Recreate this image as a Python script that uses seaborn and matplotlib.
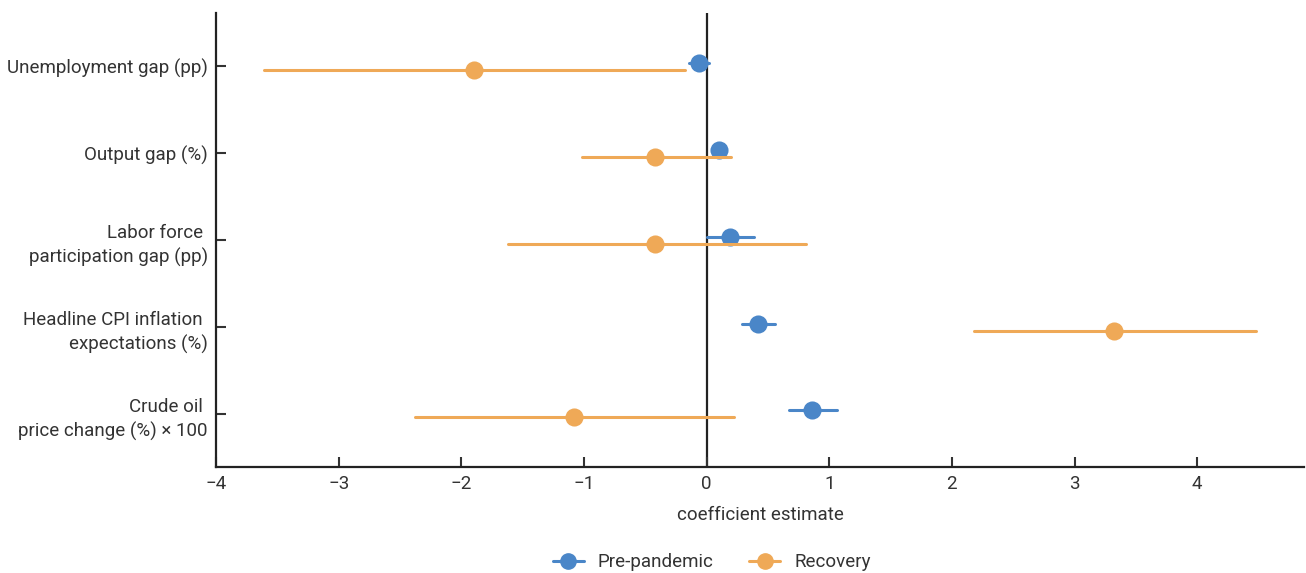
import pandas as pd
import matplotlib.pyplot as plt
import seaborn as sns
from matplotlib.lines import Line2D

# ---------------- DATA ----------------
variables = [
    "Unemployment gap (pp)",
    "Output gap (%)",
    "Labor force \nparticipation gap (pp)",
    "Headline CPI inflation \nexpectations (%)",
    "Crude oil \nprice change (%) × 100",
]
periods = ["Pre-pandemic", "Recovery"]

pre_est = [-0.06, 0.10, 0.19, 0.42, 0.86]
pre_low = [-0.14, 0.09, 0.00, 0.29, 0.67]
pre_high = [0.02, 0.11, 0.39, 0.56, 1.06]

rec_est = [-1.90, -0.42, -0.42, 3.32, -1.08]
rec_low = [-3.61, -1.02, -1.62, 2.18, -2.38]
rec_high = [-0.18, 0.20, 0.81, 4.48, 0.22]

colors = {"Pre-pandemic": "#4a86c8", "Recovery": "#efa957"}

# ---------------- LONG FORM ----------------
# median of (low, est, high) = estimate, full range = interval
rows = []
for period, est, low, high in [("Pre-pandemic", pre_est, pre_low, pre_high),
                               ("Recovery", rec_est, rec_low, rec_high)]:
    for var, e, lo, hi in zip(variables, est, low, high):
        for v in (lo, e, hi):
            rows.append({"variable": var, "period": period, "value": v})
df = pd.DataFrame(rows)

# ---------------- PLOT ----------------
sns.set_style("ticks")
plt.rcParams["font.family"] = ["Roboto", "DejaVu Sans"]
txt = "#333333"

fig = plt.figure(figsize=(13.06, 5.73), dpi=100)
ax = fig.add_axes([0.1654, 0.185, 0.833, 0.792])

ax.axvline(0, color="#222222", lw=1.6, zorder=0)

sns.pointplot(data=df, x="value", y="variable", hue="period",
              order=variables, hue_order=periods, palette=colors,
              estimator="median", errorbar=("pi", 100),
              dodge=0.08, linestyle="none", markers="o",
              markersize=11, err_kws={"linewidth": 2.2},
              orient="h", legend=False, ax=ax)

ax.set_xlim(-4, 4.87)
ax.set_ylim(4.61, -0.61)
ax.set_xticks([-4, -3, -2, -1, 0, 1, 2, 3, 4])
ax.set_ylabel("")
ax.set_xlabel("coefficient estimate", fontsize=13.5, color=txt, labelpad=9)

for lab in ax.get_yticklabels():
    lab.set_multialignment("right")
    lab.set_linespacing(1.4)

ax.tick_params(axis="both", labelsize=13.5, colors=txt, length=7, width=1.5,
               direction="in")
ax.tick_params(axis="y", pad=6)
ax.tick_params(axis="x", pad=6)
for side in ["top", "right"]:
    ax.spines[side].set_visible(False)
for side in ["left", "bottom"]:
    ax.spines[side].set_linewidth(1.6)
    ax.spines[side].set_color("#222222")

handles = [Line2D([0], [0], color=colors[p], marker="o", markersize=11, lw=2.2)
           for p in periods]
fig.legend(handles, periods, loc="center", ncol=2, frameon=False,
           fontsize=13.5, bbox_to_anchor=(0.545, 0.019), columnspacing=1.9,
           handlelength=1.65, handletextpad=0.75, labelcolor=txt)

fig.savefig("out.png", dpi=100)
